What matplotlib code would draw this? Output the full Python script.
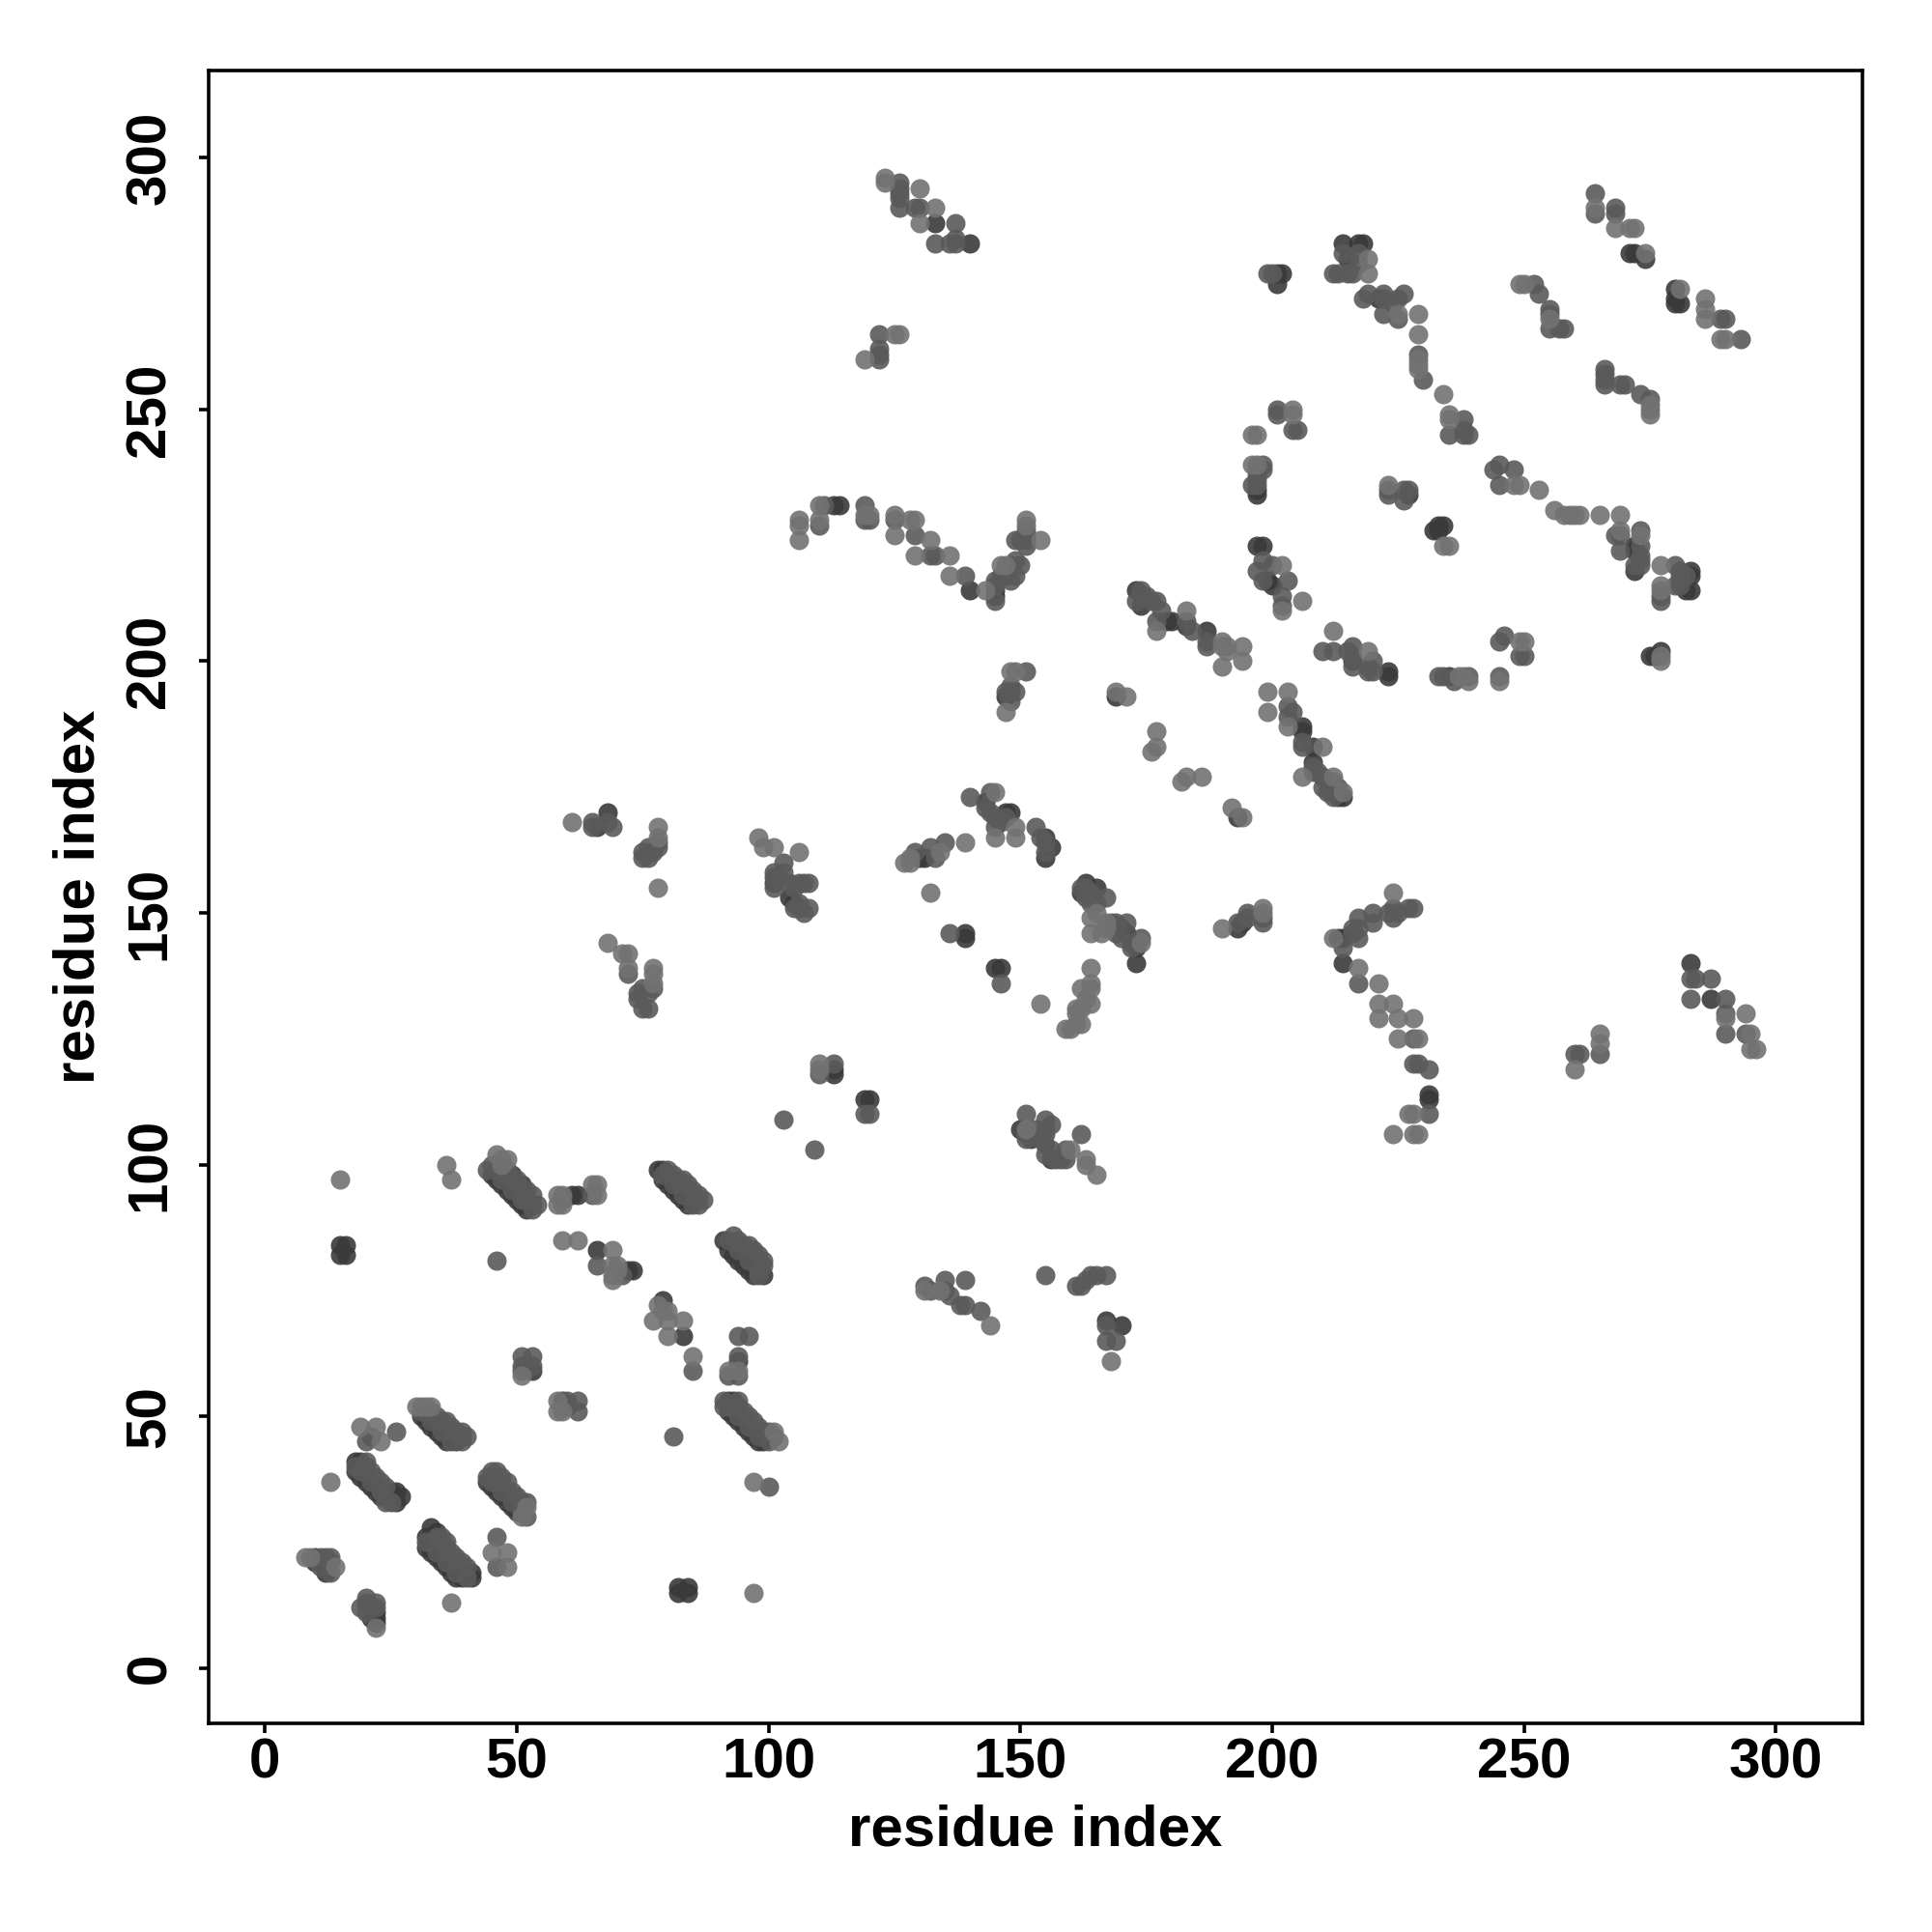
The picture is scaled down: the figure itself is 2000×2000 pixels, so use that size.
import matplotlib
matplotlib.use('Agg')
import matplotlib.pyplot as plt

plt.rcParams['font.family'] = ['Liberation Sans', 'DejaVu Sans']

# contacts, split by how dark the dot looks
dark_pts = [
    (15, 84), (16, 84), (15, 82), (16, 82), (61, 94), (62, 94), (66, 83), (72, 79), (73, 79),
    (79, 73), (83, 66), (94, 61), (53, 59), (59, 53), (82, 16), (82, 15), (84, 16), (84, 15),
    (47, 100), (49, 98), (51, 96), (53, 92), (48, 96), (50, 94), (52, 92),
    (78, 99), (79, 99), (80, 97), (82, 95), (84, 93),
    (93, 84), (95, 82), (97, 80), (99, 78),
    (92, 53), (93, 53), (93, 51), (95, 49), (97, 47), (99, 45),
    (32, 50), (34, 48), (36, 46), (38, 45),
    (18, 41), (19, 41), (20, 38), (22, 36), (24, 34), (26, 33), (27, 34), (25, 35), (26, 35),
    (46, 36), (48, 34), (50, 32),
    (33, 28), (34, 27), (32, 26), (33, 24), (35, 22), (37, 20), (39, 18), (41, 18), (41, 19),
    (10, 22), (10, 21), (12, 19), (21, 10), (22, 10), (22, 11),
    (68, 170), (66, 167), (101, 156), (104, 153), (105, 152),
    (131, 161), (130, 161), (139, 146), (139, 145), (145, 139), (146, 139),
    (147, 170), (148, 170), (143, 172), (155, 165), (156, 163), (155, 161),
    (113, 118), (113, 119), (119, 113), (120, 113), (150, 107), (152, 105), (156, 101),
    (165, 155), (163, 156), (162, 154), (170, 147), (171, 146), (173, 143), (173, 140),
    (193, 147), (194, 148), (169, 193), (193, 169), (214, 145), (213, 145), (214, 140),
    (173, 214), (174, 211), (179, 208), (180, 208), (187, 206), (183, 207),
    (197, 223), (198, 223), (199, 216), (200, 215), (206, 187), (206, 186), (208, 183), (208, 180),
    (213, 173), (214, 173), (216, 200), (223, 198), (223, 197), (235, 197),
    (271, 281), (272, 281), (274, 280), (280, 274), (280, 272), (281, 271), (280, 271),
    (214, 283), (217, 283), (218, 283), (215, 280), (221, 272), (201, 277), (202, 277), (201, 275),
    (197, 234), (197, 233), (227, 233), (232, 226), (233, 227), (234, 227), (233, 226),
    (272, 223), (272, 222), (272, 218), (283, 217), (283, 218), (282, 214), (283, 214),
    (275, 201), (276, 201), (277, 202), (133, 287), (140, 214), (145, 214), (145, 213),
    (113, 231), (114, 231), (140, 283), (147, 193), (283, 140), (287, 133), (231, 113), (231, 114),
    (170, 68), (167, 69), (22, 9),
]
# lower edge of the long diagonal strands
strand_edge_pts = [
    (45, 98), (46, 97), (47, 96), (48, 95), (49, 94), (50, 93), (51, 92), (52, 91),
    (79, 97), (80, 96), (81, 95), (82, 94), (83, 93), (84, 92),
    (91, 85), (92, 83), (93, 82), (94, 81), (95, 80), (96, 79), (97, 78),
    (92, 51), (93, 50), (94, 49), (95, 48), (96, 47), (97, 46), (98, 45),
    (31, 50), (32, 49), (33, 48), (34, 47), (35, 46), (36, 45),
    (18, 39), (19, 38), (20, 37), (21, 36), (22, 35), (23, 34),
    (44, 37), (45, 36), (46, 35), (47, 34), (48, 33), (49, 32), (50, 31),
    (32, 24), (33, 23), (34, 22), (35, 21), (36, 20), (37, 19), (38, 18),
]
mid_pts = [
    (46, 81), (45, 100), (46, 99), (59, 93), (65, 94), (66, 80), (71, 78), (85, 59),
    (48, 99), (50, 97), (52, 95), (52, 93), (54, 92), (47, 97), (49, 95), (51, 93), (53, 91), (44, 99), (48, 98), (50, 96), (53, 94),
    (80, 99), (79, 98), (81, 96), (83, 94), (85, 92),
    (81, 98), (82, 97), (83, 97), (84, 96), (85, 95), (86, 94), (87, 93), (86, 92),
    (92, 85), (94, 83), (96, 81), (98, 79), (98, 78),
    (93, 86), (94, 85), (95, 84), (96, 84), (97, 83), (98, 82), (99, 81), (99, 80),
    (92, 58), (96, 66), (94, 66), (94, 62), (94, 58), (94, 53), (91, 52), (91, 53), (92, 52), (94, 50), (96, 48), (98, 46),
    (94, 52), (95, 51), (96, 50), (97, 49), (98, 48), (99, 47), (100, 47), (100, 45), (101, 46),
    (81, 46), (100, 36), (51, 62), (53, 62), (51, 60), (51, 59), (53, 60), (60, 53), (62, 53), (62, 51), (60, 52),
    (31, 51), (33, 49), (35, 47), (37, 45), (39, 45), (39, 46),
    (32, 51), (33, 51), (34, 50), (35, 49), (36, 49), (37, 48), (38, 47), (39, 47), (40, 46),
    (18, 40), (19, 39), (21, 37), (23, 35), (25, 33), (24, 33),
    (20, 41), (20, 40), (21, 39), (22, 38), (23, 37), (24, 36), (26, 47), (20, 45), (21, 46),
    (45, 37), (47, 35), (49, 33),
    (44, 38), (45, 39), (46, 39), (47, 38), (47, 37), (48, 37), (49, 35), (50, 34), (51, 33), (52, 33), (51, 31), (52, 30),
    (32, 25), (34, 26), (34, 23), (36, 21), (38, 19), (40, 18),
    (35, 26), (36, 25), (36, 24), (37, 23), (38, 22), (39, 21), (40, 20), (46, 26), (46, 20),
    (11, 20), (20, 11),
    (11, 22), (12, 22), (13, 22), (13, 19), (13, 21), (19, 12), (20, 13), (22, 12), (22, 13), (20, 14),
    (65, 168), (68, 168), (69, 167), (65, 167), (78, 163), (76, 163), (75, 162), (75, 161), (76, 161), (77, 162), (78, 164),
    (72, 138), (74, 134), (76, 134), (75, 135), (74, 133), (75, 131), (76, 131), (77, 135),
    (101, 155), (105, 151),
    (101, 158), (101, 157), (102, 157), (103, 158), (103, 160), (104, 156), (105, 155), (106, 156), (107, 156), (108, 156),
    (106, 152), (106, 151), (107, 150), (108, 151),
    (129, 162), (132, 163), (135, 164), (136, 146), (146, 136), (133, 161),
    (140, 173), (144, 174), (144, 170), (146, 168), (147, 169), (145, 169), (145, 167), (153, 167), (154, 165), (155, 164),
    (143, 171), (155, 162), (110, 118), (103, 109), (109, 103), (113, 120), (119, 110), (120, 110),
    (151, 105), (155, 102),
    (151, 110), (151, 106), (153, 107), (155, 109), (156, 108), (155, 107), (155, 106), (154, 105), (155, 104), (156, 103),
    (157, 101), (158, 101), (159, 101), (159, 103), (162, 106),
    (163, 153), (169, 146),
    (162, 155), (164, 154), (167, 153), (164, 152), (165, 152), (163, 155), (172, 144), (174, 145), (172, 143), (170, 145),
    (168, 148), (169, 148), (171, 148), (193, 148), (195, 150), (195, 149), (198, 149), (198, 148),
    (217, 149), (217, 147), (216, 146), (217, 145), (216, 147), (220, 150), (220, 148), (223, 150), (224, 151), (225, 150), (224, 149), (227, 151), (228, 151),
    (214, 143), (217, 136), (231, 119), (231, 110), (228, 120), (229, 120), (228, 125),
    (265, 122), (260, 122), (261, 122), (283, 137), (284, 137), (283, 133), (287, 137), (290, 133), (290, 130), (290, 126), (294, 126),
    (173, 212), (212, 173),
    (174, 214), (175, 213), (176, 212), (177, 212), (178, 210), (183, 208), (184, 206), (187, 204), (187, 203), (177, 208),
    (197, 235), (197, 236), (196, 235), (197, 237), (197, 238), (198, 238), (198, 239),
    (198, 220), (197, 218), (200, 219), (198, 216), (203, 216), (202, 213), (202, 211), (210, 202), (212, 202), (215, 202),
    (216, 201), (216, 199), (216, 203), (220, 200), (219, 199), (220, 198), (219, 198),
    (233, 197), (234, 197), (236, 196), (239, 197), (245, 197), (249, 201), (250, 201), (246, 205), (245, 204),
    (203, 191), (204, 190), (203, 189), (206, 184), (206, 183), (208, 179), (208, 178), (209, 178), (210, 177), (212, 176), (213, 175), (210, 175), (211, 174),
    (264, 293), (268, 290), (268, 289), (264, 289), (252, 275), (253, 273), (255, 270), (255, 269), (255, 266), (257, 266), (258, 266),
    (266, 258), (266, 257), (266, 256), (266, 255), (269, 255), (270, 255), (273, 253), (275, 252), (293, 264), (289, 268), (290, 268),
    (214, 281), (226, 232), (273, 221),
    (212, 277), (213, 277), (215, 277), (216, 277), (217, 281), (217, 279), (218, 272), (219, 273), (222, 273), (222, 272), (224, 271),
    (225, 272), (226, 273), (222, 269), (225, 268), (229, 261), (230, 256), (235, 245), (238, 248), (238, 246), (238, 245), (239, 245),
    (199, 277), (200, 277), (201, 250), (201, 249), (205, 246), (204, 246), (223, 233), (223, 234), (226, 234), (227, 234),
    (245, 239), (244, 238), (248, 238), (245, 235), (268, 225), (269, 225), (269, 222), (273, 226), (273, 223), (273, 220), (272, 219), (273, 219),
    (280, 219), (281, 218), (282, 217), (281, 217), (280, 215), (281, 215), (277, 213), (277, 212),
    (126, 295), (126, 294), (126, 293), (126, 292), (126, 290), (129, 290), (130, 290), (133, 283), (137, 287), (137, 284), (137, 283), (136, 283),
    (122, 265), (122, 262), (122, 261), (122, 260), (110, 227), (111, 231), (119, 231), (119, 228), (120, 228), (125, 228), (129, 225), (132, 221), (133, 221),
    (139, 217), (145, 212), (145, 215), (145, 216), (146, 217), (147, 217), (148, 216), (149, 217), (148, 219), (149, 220), (150, 219), (149, 224), (150, 224), (151, 223), (151, 224), (151, 225),
    (151, 226), (147, 194), (148, 194), (149, 194), (148, 195), (148, 192), (151, 198), (131, 76), (132, 75), (135, 75), (136, 74), (138, 72), (139, 72), (142, 71),
    (155, 78), (164, 78), (161, 76), (162, 76),
    (163, 77), (165, 78), (167, 78), (167, 68), (167, 65), (169, 65), (135, 77), (139, 77),
]
light_pts = [
    (15, 97), (36, 100), (37, 97), (46, 102), (47, 101), (48, 101), (47, 100), (58, 94), (59, 94), (58, 92), (59, 92),
    (65, 96), (66, 96), (66, 94), (59, 85), (62, 85), (69, 83), (69, 80), (70, 80), (69, 78), (69, 77), (70, 79),
    (78, 72), (79, 71), (80, 71), (77, 69), (80, 69), (83, 69), (80, 66), (85, 62), (92, 59), (94, 59),
    (101, 47), (102, 45), (97, 37), (97, 15), (51, 58), (58, 53), (58, 51), (59, 51),
    (30, 52), (31, 52), (32, 52), (33, 52), (19, 48), (22, 48), (23, 45), (13, 37),
    (52, 32), (51, 30), (45, 23), (48, 23), (48, 20), (37, 13), (8, 22), (9, 22), (14, 20), (22, 8),
    (61, 168), (78, 167), (78, 165), (78, 155), (68, 144), (71, 142), (72, 142), (72, 139), (77, 139), (77, 138), (77, 136),
    (98, 165), (99, 163), (101, 163), (106, 162), (127, 160), (128, 160), (128, 161), (134, 162), (139, 164), (132, 154), (154, 132),
    (145, 174), (145, 165), (149, 165), (149, 167), (110, 120), (110, 119), (151, 107), (160, 103), (163, 101), (163, 100), (165, 98),
    (164, 149), (165, 150), (164, 146), (166, 146), (167, 147), (167, 148), (174, 144), (164, 139), (164, 136), (164, 135), (162, 135),
    (163, 133), (164, 132), (161, 131), (161, 130), (162, 131), (161, 128), (160, 127), (159, 127), (162, 128),
    (190, 147), (198, 151), (198, 150), (192, 171), (194, 169), (182, 176), (183, 177), (186, 177),
    (212, 145), (224, 154), (221, 136), (217, 139), (221, 132), (221, 129), (224, 132), (225, 129), (228, 129), (225, 125), (229, 125),
    (227, 110), (228, 110), (224, 106), (228, 106), (229, 106), (260, 119), (265, 126), (265, 124), (294, 130), (295, 126), (295, 123), (296, 123), (290, 129),
    (183, 210), (177, 206), (190, 204), (191, 203), (190, 203), (191, 202), (194, 203), (194, 200), (190, 199), (169, 194), (171, 193),
    (177, 186), (177, 183), (176, 182), (202, 219), (202, 210), (206, 212), (212, 206), (219, 202), (237, 197), (238, 197), (239, 196), (245, 196),
    (199, 194), (203, 194), (199, 190), (203, 187), (210, 183), (206, 177), (212, 177), (214, 174), (249, 204), (250, 204),
    (264, 290), (268, 286), (271, 286), (272, 286), (274, 281), (281, 274), (286, 272), (286, 270), (286, 268), (289, 264), (290, 264),
    (249, 275), (250, 275), (255, 268), (275, 251), (275, 250), (275, 249), (219, 280), (219, 277), (229, 269), (229, 265), (229, 260), (229, 259), (229, 258),
    (225, 269), (234, 253), (235, 249), (235, 248), (204, 250), (204, 249), (196, 245), (197, 245), (196, 239), (197, 239), (223, 235),
    (234, 223), (235, 223), (248, 235), (249, 235), (253, 234), (256, 230), (258, 229), (259, 229), (260, 229), (261, 229), (265, 229), (269, 229), (269, 226),
    (273, 225), (277, 219), (277, 215), (277, 214), (277, 200), (277, 201),
    (123, 296), (123, 295), (130, 294), (133, 290), (130, 287), (125, 265), (126, 265), (119, 260),
    (106, 228), (106, 227), (106, 224), (110, 228), (110, 231), (119, 229), (120, 229), (125, 229), (128, 228), (129, 228), (125, 225), (132, 224), (129, 221),
    (136, 221), (136, 217), (143, 214), (147, 219), (146, 219), (154, 224), (151, 228), (151, 227), (147, 190), (148, 198), (149, 198),
    (131, 75), (134, 75), (144, 68), (168, 61),
]
tick_vals = [0, 50, 100, 150, 200, 250, 300]
axis_label = 'residue index'

fig = plt.figure(figsize=(10, 10), dpi=200)
ax = fig.add_axes([0.1082, 0.108, 0.8556, 0.8557])

# darker ones go down first so the pale dots sit on top
for pts, col in [(strand_edge_pts, '#3c3c3c'), (dark_pts, '#3a3a3a'), (mid_pts, '#5a5a5a'), (light_pts, '#727272')]:
    xs = [p[0] for p in pts]
    ys = [p[1] for p in pts]
    ax.scatter(xs, ys, s=52, color=col, alpha=0.9, linewidths=0, zorder=2)

ax.set_xlim(-11.1, 317.1)
ax.set_ylim(-11, 317.4)
ax.set_xticks(tick_vals)
ax.set_yticks(tick_vals)
ax.tick_params(length=3.6, width=1.3, labelsize=21)
ax.tick_params(axis='x', pad=1.5)
ax.tick_params(axis='y', pad=8.5)
for lab in ax.get_xticklabels():
    lab.set_fontweight('bold')
for lab in ax.get_yticklabels():
    lab.set_fontweight('bold')
    lab.set_rotation(90)
    lab.set_va('center')
for sp in ax.spines.values():
    sp.set_linewidth(1.3)

ax.set_xlabel(axis_label, fontsize=21.6, fontweight='bold', labelpad=5.5)
ax.set_ylabel(axis_label, fontsize=21.6, fontweight='bold', labelpad=7)

fig.savefig('out.png', dpi=200)
